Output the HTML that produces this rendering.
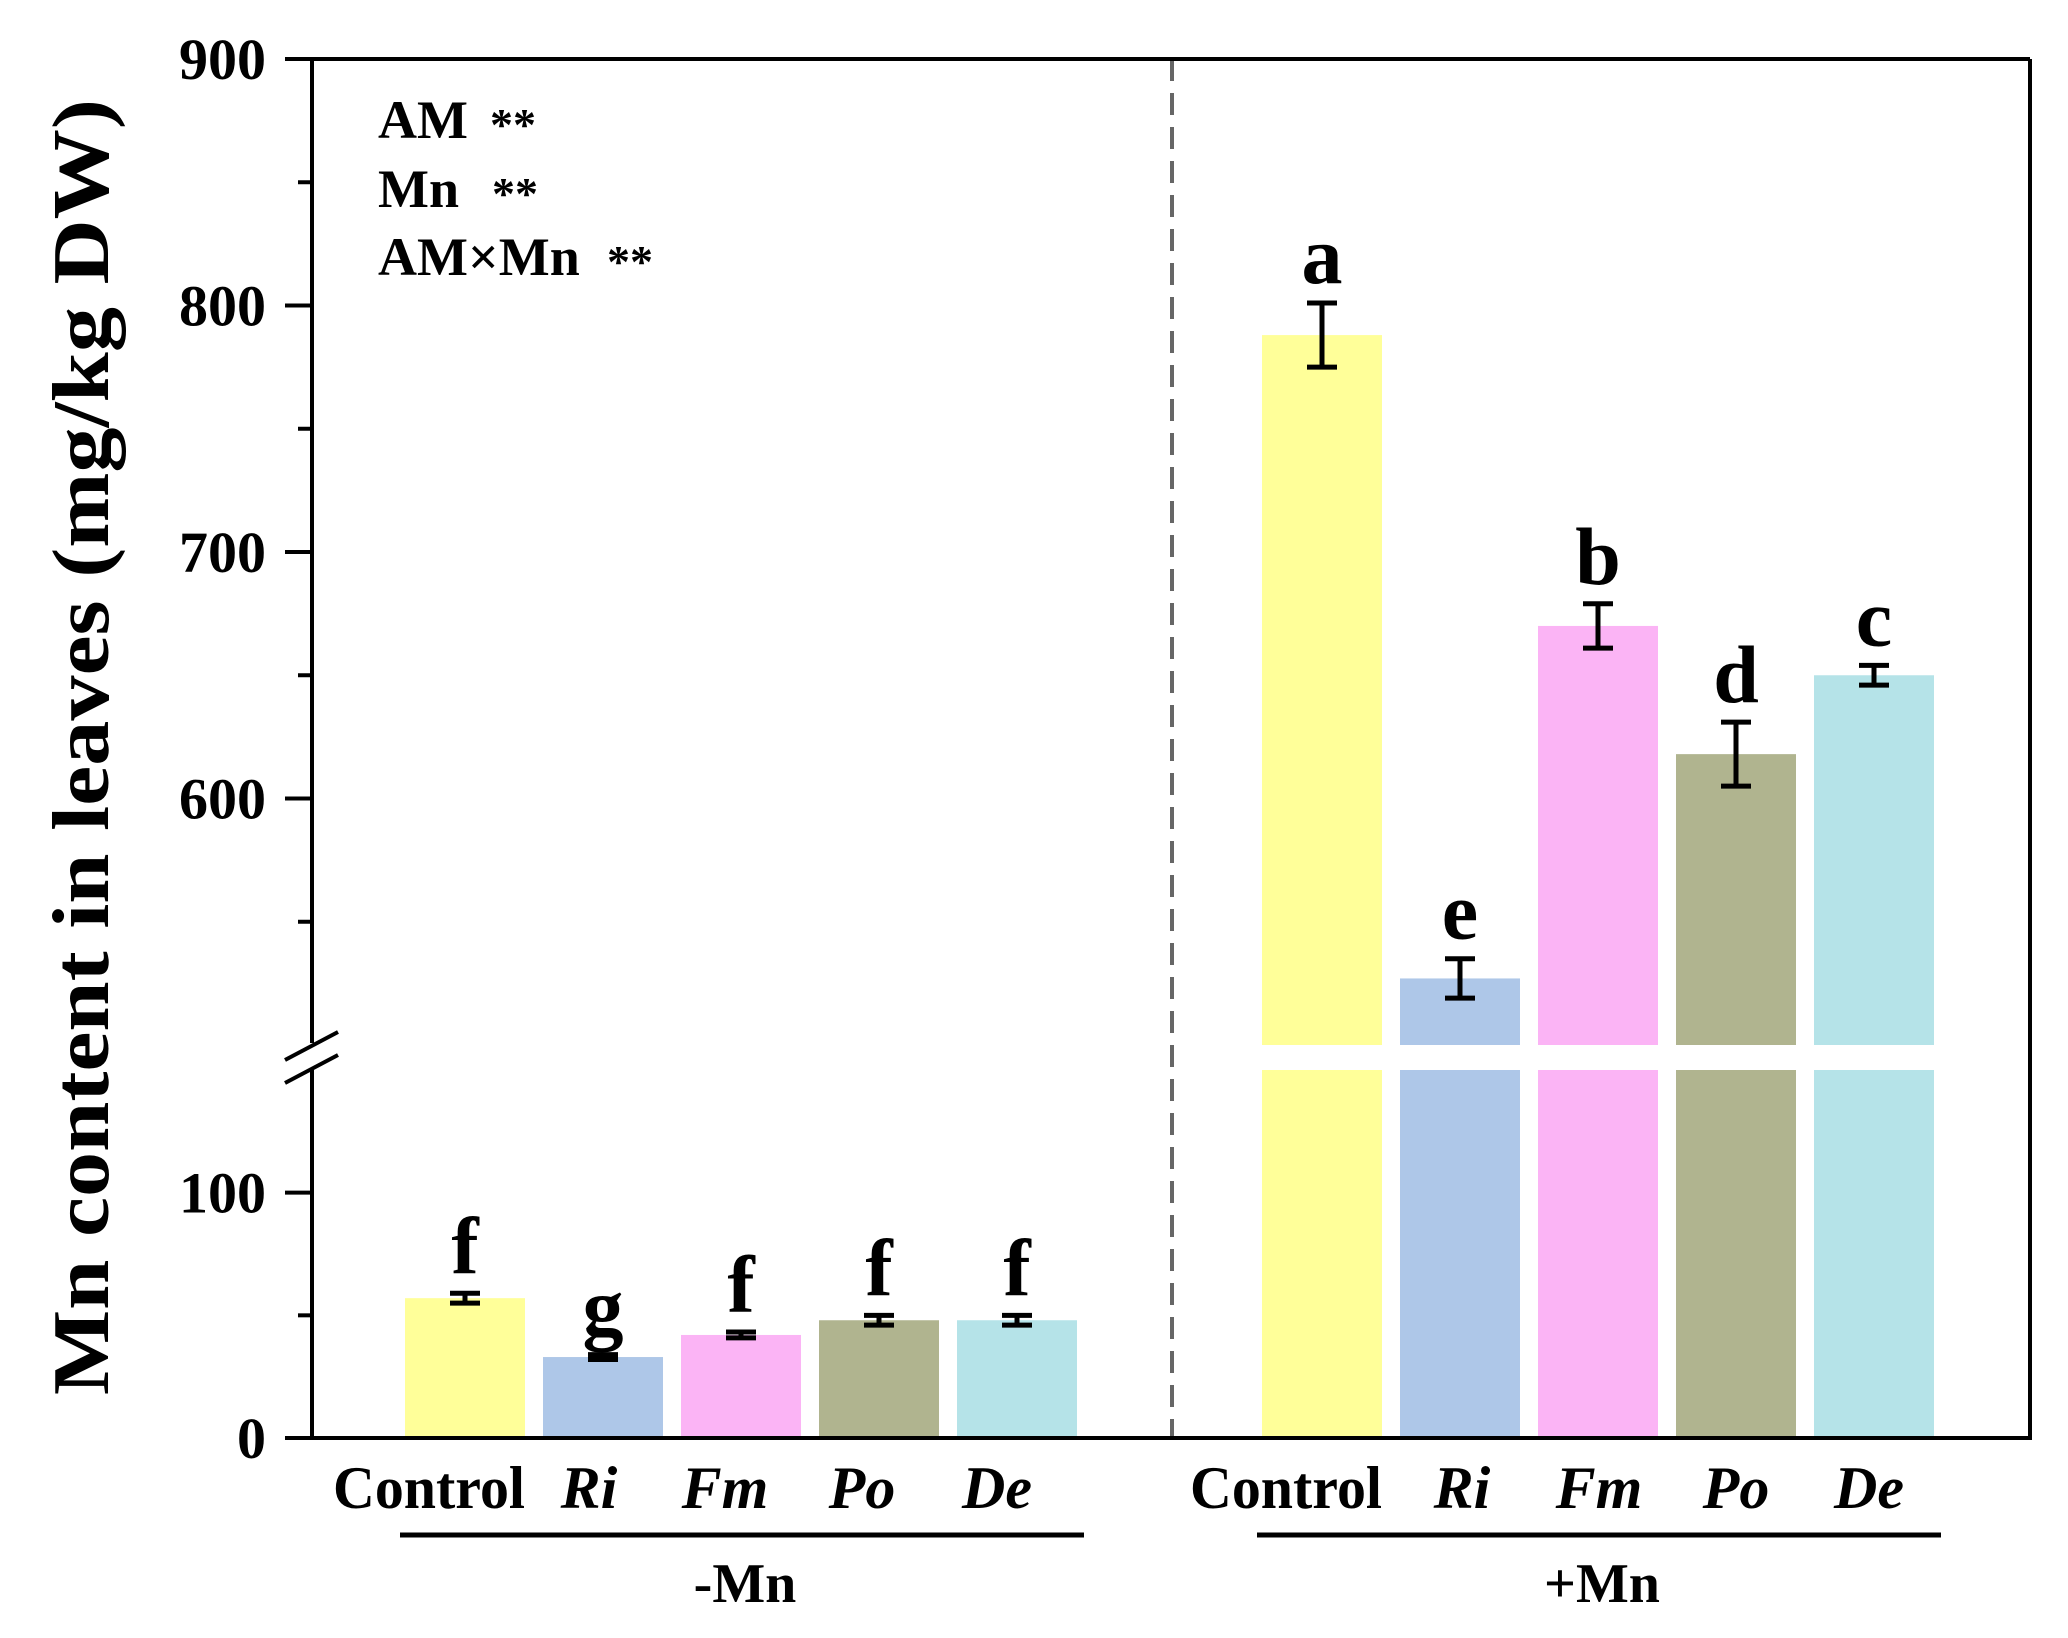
<!DOCTYPE html>
<html><head><meta charset="utf-8">
<style>
html,body{margin:0;padding:0;background:#fff;}
svg{display:block;font-family:"Liberation Serif",serif;}
</style></head>
<body>
<svg id="chart" width="2068" height="1638" viewBox="0 0 2068 1638" xmlns="http://www.w3.org/2000/svg">
</svg>
<script>
const categories = ["Control","Ri","Fm","Po","De"];
const italicCat = [false,true,true,true,true];
const groups = ["-Mn","+Mn"];
const minusMnValues = [57,33,42,48,48];
const minusMnErrors = [2,1,1.2,2,2];
const minusMnLetters = ["f","g","f","f","f"];
const plusMnValues = [788,527,670,618,650];
const plusMnErrors = [13,8,9,13,4];
const plusMnLetters = ["a","e","b","d","c"];
const lowerTicks = [0,50,100];
const lowerTickLabels = ["0","","100"];
const upperTicks = [550,600,650,700,750,800,850,900];
const upperTickLabels = ["","600","","700","","800","","900"];
const colors = ["#FFFF99","#AEC7E8","#FBB4F5","#B0B48F","#B5E3E8"];

const svg = document.getElementById('chart');
const NS = "http://www.w3.org/2000/svg";
function mk(tag, attrs, parent){
  const e=document.createElementNS(NS,tag);
  for(const k in attrs) e.setAttribute(k,attrs[k]);
  (parent||svg).appendChild(e); return e;
}
const baseY=1438, lowerTopY=1070, upperBotY=1045, topY=59;
function yScale(v){
  if(v<=150) return baseY - v*(baseY-lowerTopY)/150;
  return upperBotY - (v-500)*(upperBotY-topY)/400;
}
const groupStart=[405,1262], step=138, barW=120;
function xBar(g,i){return groupStart[g]+i*step;}
const axL=312, axR=2030;
const labelOffset=[[-36,-14,-16,-17,-20],[-36,2,1,0,-5]];

const allVals=[minusMnValues,plusMnValues], allErr=[minusMnErrors,plusMnErrors], allLet=[minusMnLetters,plusMnLetters];
for(let g=0;g<2;g++){
  for(let i=0;i<categories.length;i++){
    const v=allVals[g][i], x=xBar(g,i);
    const gr=mk('g',{});
    
    
    if(v<=150){
      mk('rect',{x:x,y:yScale(v),width:barW,height:baseY-yScale(v),fill:colors[i]},gr);
    } else {
      mk('rect',{x:x,y:lowerTopY,width:barW,height:baseY-lowerTopY,fill:colors[i]},gr);
      mk('rect',{x:x,y:yScale(v),width:barW,height:upperBotY-yScale(v),fill:colors[i]},gr);
    }
    const e=allErr[g][i], cx=x+barW/2;
    const y1=yScale(v+e), y2=yScale(v-e);
    const eb=mk('g',{stroke:'#000','stroke-width':5});
    
    
    mk('line',{x1:cx,y1:y1,x2:cx,y2:y2},eb);
    mk('line',{x1:cx-15,y1:y1,x2:cx+15,y2:y1},eb);
    mk('line',{x1:cx-15,y1:y2,x2:cx+15,y2:y2},eb);
    const t=mk('text',{x:cx,y:y1-20,'text-anchor':'middle','font-size':82,'font-weight':'bold'});
    t.textContent=allLet[g][i];
    
    
    const c=mk('text',{x:cx+labelOffset[g][i],y:1508,'text-anchor':'middle','font-size':60,'font-weight':'bold','font-style':italicCat[i]?'italic':'normal'});
    if(i==0){c.setAttribute('textLength',192);c.setAttribute('lengthAdjust','spacingAndGlyphs');}
    c.textContent=categories[i];
    
    
  }
  const ul=mk('line',{x1:groupStart[g]-5,y1:1535,x2:groupStart[g]+4*step+barW+7,y2:1535,stroke:'#000','stroke-width':5});
  
  
  const gl=mk('text',{x:groupStart[g]+2*step+barW/2+4,y:1602,'text-anchor':'middle','font-size':56,'font-weight':'bold'});
  gl.textContent=groups[g];
  
  
}
const dv=mk('line',{x1:1172,y1:topY,x2:1172,y2:baseY,stroke:'#666','stroke-width':4,'stroke-dasharray':'22 12'});


const fr=mk('g',{stroke:'#000','stroke-width':4,fill:'none'});


mk('line',{x1:axL,y1:topY,x2:axR,y2:topY},fr);
mk('line',{x1:axR,y1:topY,x2:axR,y2:baseY},fr);
mk('line',{x1:285,y1:baseY,x2:axR+2,y2:baseY},fr);
mk('line',{x1:axL,y1:topY-2,x2:axL,y2:1043},fr);
mk('line',{x1:axL,y1:1070,x2:axL,y2:baseY},fr);
mk('line',{x1:285,y1:1060,x2:338,y2:1032},fr);
mk('line',{x1:285,y1:1083,x2:338,y2:1055},fr);
function ticks(arr,labels){
  arr.forEach((v,k)=>{
    const y=yScale(v), major=labels[k]!=="";
    const tl=mk('line',{x1:major?285:298,y1:y,x2:axL,y2:y,stroke:'#000','stroke-width':4});
    
    
    if(major){
      const t=mk('text',{x:266,y:y+20,'text-anchor':'end','font-size':58,'font-weight':'bold'});
      t.textContent=labels[k];
      
      
    }
  });
}
ticks(lowerTicks,lowerTickLabels);
ticks(upperTicks,upperTickLabels);
const yt=mk('text',{x:0,y:0,'text-anchor':'middle','font-size':80,'font-weight':'bold',transform:'translate(108,747) rotate(-90)',textLength:1296,lengthAdjust:'spacingAndGlyphs'});
yt.textContent='Mn content in leaves (mg/kg DW)';


const ann=[["AM",138,490],["Mn",207,492],["AM×Mn",275,607]];
ann.forEach(a=>{
  const t=mk('text',{x:378,y:a[1],'font-size':54,'font-weight':'bold'});
  t.textContent=a[0];
  
  
  const s=mk('text',{x:a[2],y:a[1]+2,'font-size':46,'font-weight':'bold'});
  s.textContent='**';
  
  
});
</script>
</body></html>
